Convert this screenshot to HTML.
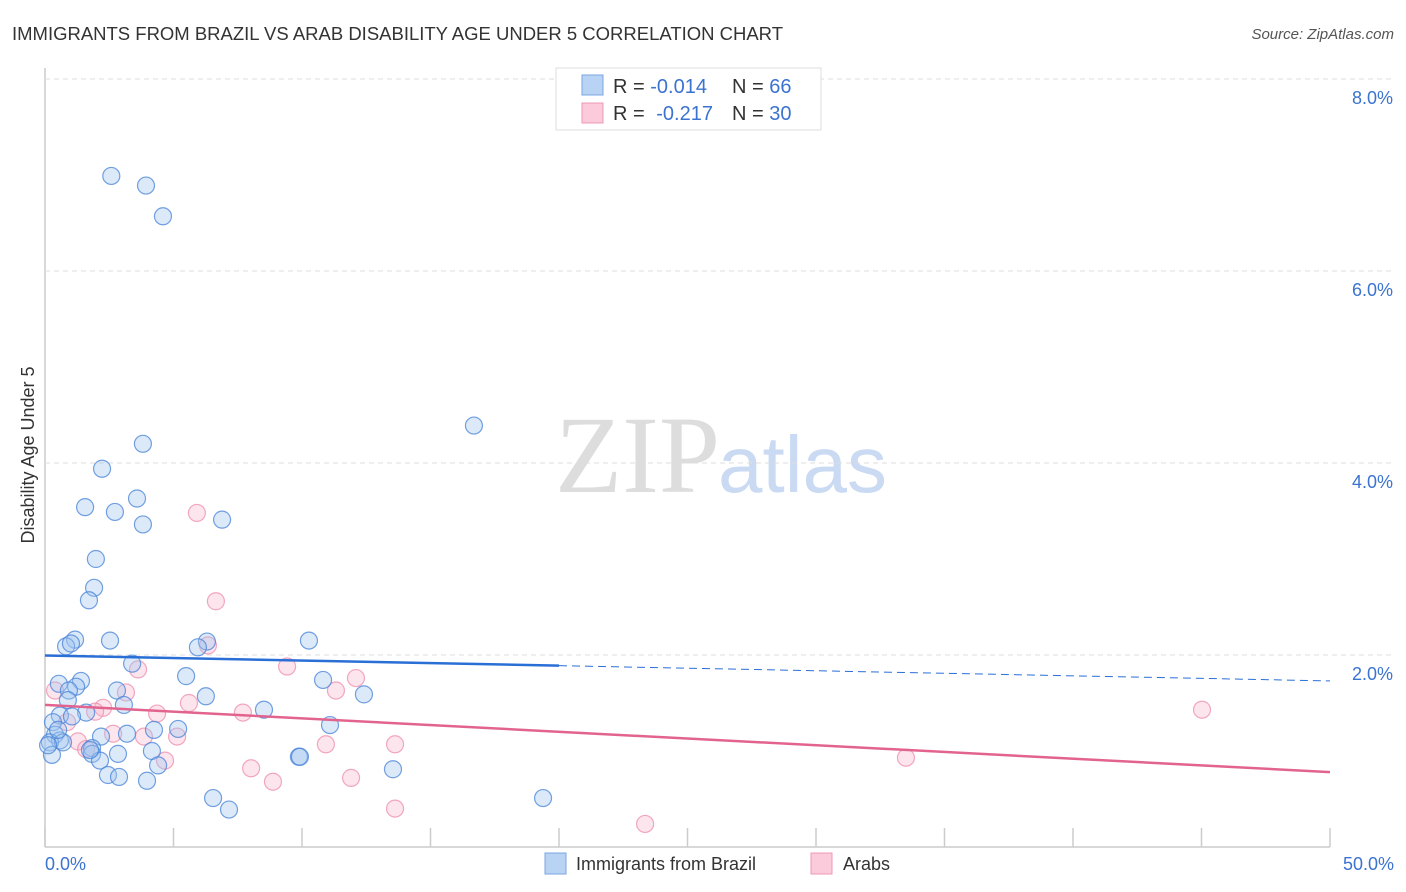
<!DOCTYPE html>
<html><head><meta charset="utf-8"><style>
body{margin:0;background:#fff;font-family:"Liberation Sans",sans-serif;}
#wrap{position:relative;width:1406px;height:892px;overflow:hidden;}
</style></head><body>
<div id="wrap">
<svg id="svg" width="1406" height="892" xmlns="http://www.w3.org/2000/svg">
<text x="12" y="40" font-size="18" fill="#333" textLength="771" lengthAdjust="spacingAndGlyphs">IMMIGRANTS FROM BRAZIL VS ARAB DISABILITY AGE UNDER 5 CORRELATION CHART</text>
<text x="1394" y="39" font-size="15" fill="#555" font-style="italic" text-anchor="end">Source: ZipAtlas.com</text>
<text x="0" y="0" transform="translate(34,455) rotate(-90)" font-size="18" fill="#333" text-anchor="middle">Disability Age Under 5</text>
<text x="555" y="492" font-size="110" fill="#ddd" font-family="Liberation Serif,serif">ZIP</text>
<text x="718" y="492" font-size="80" fill="#c9daf2">atlas</text>
<g id="grid"></g><g id="pts"></g><g id="lines"></g>
<g>
<rect x="556" y="68" width="265" height="62" fill="#fff" stroke="#ddd"/>
<rect x="582" y="75" width="21" height="20" fill="#b9d3f5" stroke="#7aa6e0"/>
<rect x="582" y="103" width="21" height="20" fill="#fbcadb" stroke="#ee9ab6"/>
<text x="613" y="93" font-size="20" fill="#333">R = <tspan fill="#3b73d1">-0.014</tspan><tspan x="732">N = </tspan><tspan fill="#3b73d1">66</tspan></text>
<text x="613" y="120" font-size="20" fill="#333">R = <tspan fill="#3b73d1" dx="6">-0.217</tspan><tspan x="732">N = </tspan><tspan fill="#3b73d1">30</tspan></text>
</g>
<g>
<rect x="545" y="853" width="21" height="21" fill="#b9d3f5" stroke="#7aa6e0"/>
<text x="576" y="870" font-size="18" fill="#333">Immigrants from Brazil</text>
<rect x="811" y="853" width="21" height="21" fill="#fbcadb" stroke="#ee9ab6"/>
<text x="843" y="870" font-size="18" fill="#333">Arabs</text>
</g>
</svg>
</div>
<script>
const yTicks=[2,4,6,8];
const yTickLabels=["2.0%","4.0%","6.0%","8.0%"];
const xTickLabels=["0.0%","50.0%"];
const brazilX=[2.58,3.93,4.59,16.69,3.81,2.22,3.58,1.56,2.72,3.81,6.89,1.98,1.91,1.71,2.53,1.17,0.82,1.01,6.30,5.95,10.27,3.39,5.49,10.82,0.54,1.40,1.21,0.93,2.80,6.26,12.41,0.89,3.07,8.52,1.60,0.58,1.05,11.09,0.31,5.18,4.24,3.19,2.18,0.39,0.58,0.19,1.83,2.84,4.16,1.83,9.88,9.92,2.14,4.40,13.54,2.45,2.88,3.97,6.54,19.38,7.16,0.27,0.70,1.75,0.51,0.12];
const brazilY=[6.99,6.89,6.57,4.39,4.20,3.94,3.63,3.54,3.49,3.36,3.41,3.00,2.70,2.57,2.15,2.16,2.09,2.12,2.14,2.08,2.15,1.91,1.78,1.74,1.70,1.73,1.67,1.63,1.63,1.57,1.59,1.53,1.48,1.43,1.40,1.37,1.36,1.27,1.30,1.23,1.22,1.18,1.15,1.17,1.11,1.09,1.03,0.97,1.00,0.97,0.94,0.94,0.90,0.85,0.81,0.75,0.73,0.69,0.51,0.51,0.39,0.96,1.09,1.01,1.22,1.06];
const arabX=[5.91,6.65,6.34,3.62,9.42,12.10,3.15,11.32,5.60,2.26,1.95,4.36,7.70,0.39,0.86,2.65,3.85,5.14,10.93,13.62,1.28,1.60,4.67,8.02,33.50,45.02,8.87,11.91,13.62,23.35];
const arabY=[3.48,2.56,2.10,1.85,1.88,1.76,1.61,1.63,1.50,1.45,1.41,1.39,1.40,1.63,1.30,1.18,1.15,1.15,1.07,1.07,1.10,1.02,0.90,0.82,0.93,1.43,0.68,0.72,0.40,0.24];
const trendBrazil=[1.995,1.73];
const trendArab=[1.48,0.78];
const X=v=>45+v*25.7, Y=v=>847-v*96;
const NS="http://www.w3.org/2000/svg";
function mk(t,a,p){const e=document.createElementNS(NS,t);for(const k in a)e.setAttribute(k,a[k]);p.appendChild(e);return e;}
const grid=document.getElementById('grid');
mk('line',{x1:45,y1:68,x2:45,y2:847,stroke:'#ccc','stroke-width':1.5},grid);
mk('line',{x1:45,y1:847,x2:1330,y2:847,stroke:'#ccc','stroke-width':1.5},grid);
yTicks.forEach((t,i)=>{
 const l=mk('line',{x1:45,y1:Y(t),x2:1394,y2:Y(t),stroke:'#ddd','stroke-dasharray':'5,4'},grid);
 
 
 const tx=mk('text',{x:1393,y:Y(t)+25,'font-size':18,fill:'#3b73d1','text-anchor':'end'},grid);
 tx.textContent=yTickLabels[i];
 
 
});
for(let i=0;i<=10;i++){mk('line',{x1:X(i*5),y1:828,x2:X(i*5),y2:847,stroke:'#ccc','stroke-width':1.5},grid);}
let t1=mk('text',{x:45,y:870,'font-size':18,fill:'#3b73d1'},grid);t1.textContent=xTickLabels[0];


let t2=mk('text',{x:1394,y:870,'font-size':18,fill:'#3b73d1','text-anchor':'end'},grid);t2.textContent=xTickLabels[1];


const pts=document.getElementById('pts');
arabX.forEach((x,i)=>{const c=mk('circle',{cx:X(x),cy:Y(arabY[i]),r:8.5,fill:'rgba(248,180,204,0.35)',stroke:'rgba(236,140,172,0.75)','stroke-width':1.2},pts);
 
 });
brazilX.forEach((x,i)=>{const c=mk('circle',{cx:X(x),cy:Y(brazilY[i]),r:8.5,fill:'rgba(160,196,240,0.38)',stroke:'rgba(70,130,215,0.75)','stroke-width':1.2},pts);
 
 });
const lines=document.getElementById('lines');
const bm=trendBrazil[0]+(trendBrazil[1]-trendBrazil[0])*(20/50);
let a=mk('line',{x1:X(0),y1:Y(trendBrazil[0]),x2:X(20),y2:Y(bm),stroke:'#2a6fd6','stroke-width':2.5},lines);


let b=mk('line',{x1:X(20),y1:Y(bm),x2:X(50),y2:Y(trendBrazil[1]),stroke:'#2a6fd6','stroke-width':1,'stroke-dasharray':'8,5'},lines);


let c=mk('line',{x1:X(0),y1:Y(trendArab[0]),x2:X(50),y2:Y(trendArab[1]),stroke:'#e2648e','stroke-width':2.5},lines);


</script>
</body></html>
